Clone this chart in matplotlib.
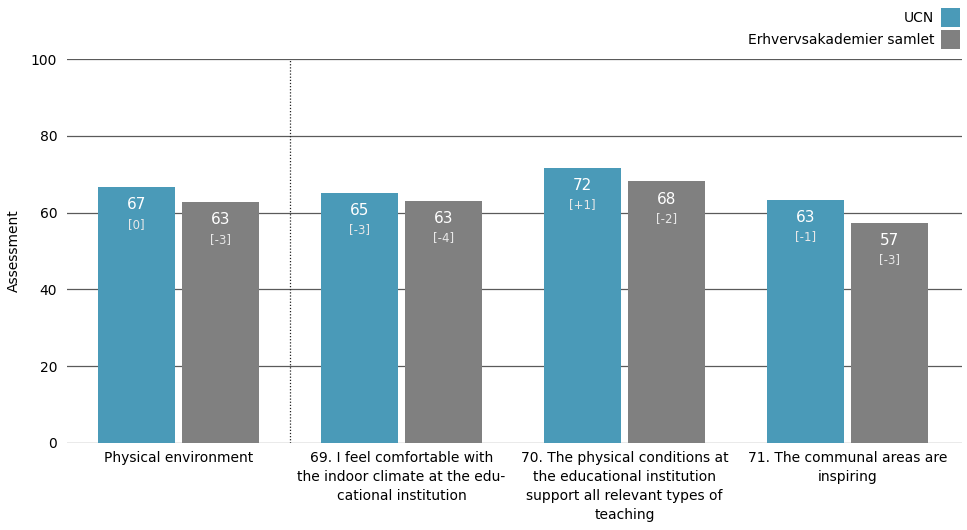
import numpy as np
import matplotlib.pyplot as plt

# data
categories = ['Physical environment',
              '69. I feel comfortable with\nthe indoor climate at the edu-\ncational institution',
              '70. The physical conditions at\nthe educational institution\nsupport all relevant types of\nteaching',
              '71. The communal areas are\ninspiring']
ucn_values = [66.6, 65.2, 71.7, 63.4]
ucn_changes = ['[0]', '[-3]', '[+1]', '[-1]']
all_values = [62.7, 63.1, 68.1, 57.4]
all_changes = ['[-3]', '[-4]', '[-2]', '[-3]']
series_names = ['UCN', 'Erhvervsakademier samlet']

ucn_color = '#4A9AB8'
all_color = '#808080'

plt.rcParams['font.family'] = ['DejaVu Sans']

fig = plt.figure(figsize=(9.67, 5.3), dpi=100)
ax = fig.add_axes([67/967, 1-443/530, (962-67)/967, (443-59)/530])

x = np.arange(len(categories))
w = 0.345
off = 0.188
b1 = ax.bar(x - off, ucn_values, w, color=ucn_color, label=series_names[0], zorder=3)
b2 = ax.bar(x + off, all_values, w, color=all_color, label=series_names[1], zorder=3)

for bars, vals, chg in [(b1, ucn_values, ucn_changes), (b2, all_values, all_changes)]:
    for r, v, c in zip(bars, vals, chg):
        cx = r.get_x() + r.get_width()/2
        ax.text(cx, v - 4.6, f'{v:.0f}', ha='center', va='center', color='white', fontsize=11, zorder=4)
        ax.text(cx, v - 9.7, c, ha='center', va='center', color='#e8e8e8', fontsize=8.5, zorder=4)

ax.set_xlim(-0.5, 3.513)
ax.set_ylim(0, 100)
ax.set_yticks(np.arange(0, 101, 20))
ax.grid(axis='y', color='#5a5a5a', linewidth=0.9, zorder=0)
ax.axvline(0.5, color='#222222', linestyle=(0, (1, 1.5)), linewidth=0.9, zorder=2)
for s in ax.spines.values():
    s.set_visible(False)
ax.tick_params(axis='y', length=0, pad=7, labelsize=10)
ax.tick_params(axis='x', length=0, pad=6, labelsize=10)
ax.set_xticks(x)
ax.set_xticklabels(categories, linespacing=1.45)
ax.set_ylabel('Assessment', fontsize=10, labelpad=7)

ax.legend(loc='upper right', bbox_to_anchor=(960/967, 1-8/530), bbox_transform=fig.transFigure,
          markerfirst=False, frameon=False, fontsize=10, handlelength=1.37, handleheight=1.73,
          handletextpad=0.5, labelspacing=0.2, borderaxespad=0, borderpad=0)

plt.savefig('out.png', dpi=100)
